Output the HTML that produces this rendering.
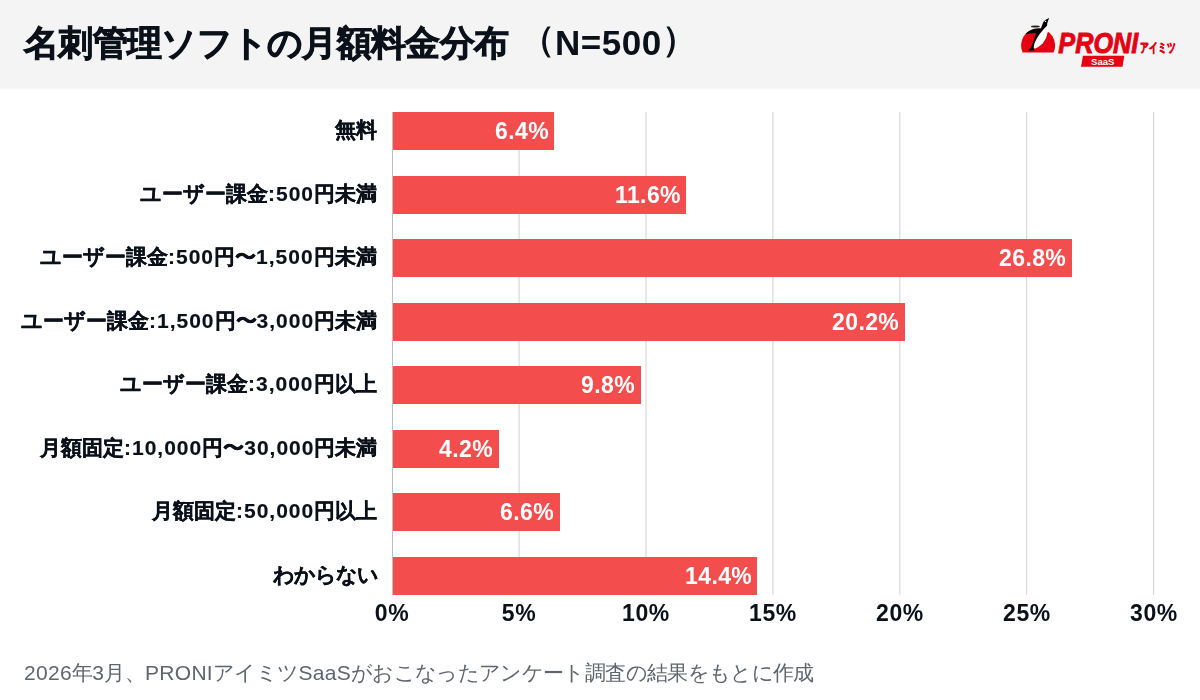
<!DOCTYPE html>
<html><head><meta charset="utf-8">
<style>
html,body{margin:0;padding:0;}
.title,.ttl2,.lbl,.val,.tick,.foot{will-change:transform;}
.title{-webkit-text-stroke:0.9px #0b111a;}
.lbl{-webkit-text-stroke:0.3px #0b111a;}
.lbl .a{-webkit-text-stroke:0.15px #0b111a;}
body{width:1200px;height:700px;position:relative;overflow:hidden;background:#fff;font-family:"Liberation Sans",sans-serif;color:#0b111a;}
.hdr{position:absolute;left:0;top:0;width:1200px;height:88px;background:#f4f4f4;box-shadow:0 1px 0 #f9f9f9;}
.title{position:absolute;left:24px;top:18px;font-size:35px;font-weight:bold;line-height:50px;white-space:nowrap;}
.ttl2{position:absolute;top:18px;font-size:35px;font-weight:bold;line-height:50px;white-space:nowrap;}
.lbl{position:absolute;right:823px;font-size:21px;font-weight:bold;line-height:30px;white-space:nowrap;}
.foot .a{letter-spacing:0.3px}
.lbl .a{letter-spacing:1.0px;}
.bar{position:absolute;left:392px;height:38px;background:#f44d4e;}
.val{position:absolute;font-size:23px;font-weight:bold;color:#fff;line-height:30px;white-space:nowrap;letter-spacing:0.4px;}
.grid{position:absolute;top:112px;height:483px;width:1px;background:#dddddd;}
.axis{position:absolute;top:112px;height:483px;width:1px;left:392px;background:#b9bfc6;}
.tick{position:absolute;top:598px;font-size:23px;font-weight:bold;line-height:30px;width:100px;text-align:center;letter-spacing:0.6px;}
.foot{position:absolute;left:24px;top:658px;font-size:21px;letter-spacing:-0.65px;color:#5e656d;line-height:30px;white-space:nowrap;}
</style></head><body>
<div class="hdr"></div>
<svg style="position:absolute;left:0;top:0" width="1200" height="88" viewBox="0 0 1200 88">
<path d="M1022.65 52.6 A17 17 0 1 1 1053.55 52.6 Z" fill="#e60012"/>
<path d="M1028.1 50.5 L1030.7 48.1 L1032.4 44.3 L1034.1 39.1 L1035.9 33.1 L1025.6 34 A17 17 0 0 1 1038.1 28.5 L1041 28.3 L1042.6 23.8 L1043.9 21.2 L1046.5 19.2 L1049.2 17.9 L1047.9 21.2 L1047.2 23.5 L1047 26 L1044 28.9 L1040.1 33.6 L1037.1 37.9 L1034.6 43 L1033.7 47.7 L1034.6 49 L1034.1 50.7 Z" fill="#000"/>
<path d="M1047 26 L1047.4 27.6 L1047.9 31.4 L1046.1 37.9 L1042.7 43.4 L1038 47.3 L1034.6 48.8 L1033.7 47.7 L1034.6 43 L1037.1 37.9 L1040.1 33.6 L1044 28.9 Z" fill="#fff"/>
<ellipse cx="1035.4" cy="26.5" rx="4.4" ry="0.95" fill="#222"/>
<circle cx="1045.6" cy="21.4" r="0.7" fill="#fff"/>
<text x="1058.3" y="52.5" font-family="Liberation Sans" font-weight="bold" font-style="italic" font-size="30" textLength="80" lengthAdjust="spacingAndGlyphs" fill="#e60012" stroke="#e60012" stroke-width="0.9">PRONI</text>
<text x="1140.4" y="52.4" font-family="Liberation Sans" font-weight="bold" font-size="13" textLength="35" lengthAdjust="spacingAndGlyphs" fill="#e60012" stroke="#e60012" stroke-width="0.6">アイミツ</text>
<path d="M1083 55.7 L1124.3 55.7 L1122.5 66.7 L1081 66.7 Z" fill="#e60012"/>
<text x="1091" y="65.2" font-family="Liberation Sans" font-weight="bold" font-size="9.6" textLength="23.4" lengthAdjust="spacingAndGlyphs" fill="#fff">SaaS</text>
</svg>
<div class="title" style="letter-spacing:-0.7px">名刺管理ソフトの月額料金分布</div>
<div class="ttl2" style="left:520px"><span style="position:relative;top:-4px">（</span><span style="letter-spacing:0.5px">N=500</span><span style="position:relative;top:-4px">）</span></div>

<svg style="position:absolute;left:0;top:0" width="1200" height="700"><line x1="519.10" y1="112" x2="519.10" y2="595" stroke="#cdd1d5" stroke-width="1"/><line x1="646.00" y1="112" x2="646.00" y2="595" stroke="#cdd1d5" stroke-width="1"/><line x1="772.90" y1="112" x2="772.90" y2="595" stroke="#cdd1d5" stroke-width="1"/><line x1="899.80" y1="112" x2="899.80" y2="595" stroke="#cdd1d5" stroke-width="1"/><line x1="1026.70" y1="112" x2="1026.70" y2="595" stroke="#cdd1d5" stroke-width="1"/><line x1="1153.60" y1="112" x2="1153.60" y2="595" stroke="#cdd1d5" stroke-width="1"/></svg>
<div class="bar" style="top:112.00px;width:162.43px"></div>
<div class="bar" style="top:175.55px;width:294.41px"></div>
<div class="bar" style="top:239.10px;width:680.18px"></div>
<div class="bar" style="top:302.65px;width:512.68px"></div>
<div class="bar" style="top:366.21px;width:248.72px"></div>
<div class="bar" style="top:429.76px;width:106.60px"></div>
<div class="bar" style="top:493.31px;width:167.51px"></div>
<div class="bar" style="top:556.86px;width:365.47px"></div>
<div class="axis"></div>
<div class="lbl" style="top:115.07px">無料</div>
<div class="val" style="top:116.07px;right:651.17px">6.4%</div>
<div class="lbl" style="top:178.62px">ユーザー課金<span class="a">:500</span>円未満</div>
<div class="val" style="top:179.62px;right:519.19px">11.6%</div>
<div class="lbl" style="top:242.17px">ユーザー課金<span class="a">:500</span>円〜<span class="a">1,500</span>円未満</div>
<div class="val" style="top:243.17px;right:133.42px">26.8%</div>
<div class="lbl" style="top:305.72px">ユーザー課金<span class="a">:1,500</span>円〜<span class="a">3,000</span>円未満</div>
<div class="val" style="top:306.72px;right:300.92px">20.2%</div>
<div class="lbl" style="top:369.28px">ユーザー課金<span class="a">:3,000</span>円以上</div>
<div class="val" style="top:370.28px;right:564.88px">9.8%</div>
<div class="lbl" style="top:432.83px">月額固定<span class="a">:10,000</span>円〜<span class="a">30,000</span>円未満</div>
<div class="val" style="top:433.83px;right:707.00px">4.2%</div>
<div class="lbl" style="top:496.38px">月額固定<span class="a">:50,000</span>円以上</div>
<div class="val" style="top:497.38px;right:646.09px">6.6%</div>
<div class="lbl" style="top:559.93px;letter-spacing:-1px;margin-right:-1px">わからない</div>
<div class="val" style="top:560.93px;right:448.13px">14.4%</div>
<div class="tick" style="left:342.3px">0%</div>
<div class="tick" style="left:469.3px">5%</div>
<div class="tick" style="left:596.3px">10%</div>
<div class="tick" style="left:723.3px">15%</div>
<div class="tick" style="left:850.3px">20%</div>
<div class="tick" style="left:977.3px">25%</div>
<div class="tick" style="left:1103.8px">30%</div>
<div class="foot"><span class="a">2026</span>年<span class="a">3</span>月、<span class="a">PRONI</span>アイミツ<span class="a">SaaS</span>がおこなったアンケート調査の結果をもとに作成</div>
</body></html>
